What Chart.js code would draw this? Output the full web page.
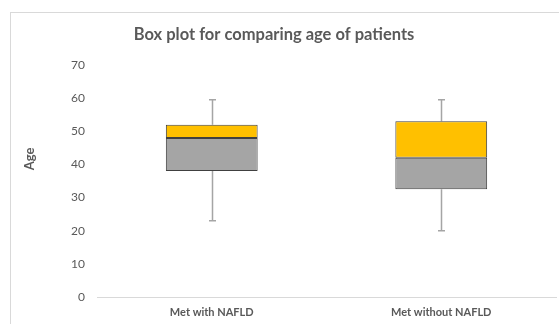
<!DOCTYPE html>
<html>
<head>
<meta charset="utf-8">
<script src="https://cdn.jsdelivr.net/npm/chart.js@4.4.1/dist/chart.umd.min.js"></script>
<style>
  html, body { margin: 0; padding: 0; background: #ffffff; }
  #wrap { position: relative; width: 559px; height: 324px; }
</style>
</head>
<body>
<div id="wrap"><canvas id="c" width="559" height="324"></canvas></div>
<script>
// Age distribution per patient group (five-number summary)
const categories = ['Met with NAFLD', 'Met without NAFLD'];
const minVals    = [23, 20];
const q1Vals     = [38, 32.5];
const medianVals = [48, 42];
const q3Vals     = [52, 53];
const maxVals    = [59.5, 59.5];
const yTicks     = [0, 10, 20, 30, 40, 50, 60, 70];

const TEXT = '#595959';
const FONT = 'Lato, "Open Sans", sans-serif';

// Lower box half (Q1 -> median) and upper box half (median -> Q3) as floating bars
const lowerBox = categories.map((_, i) => [q1Vals[i], medianVals[i]]);
const upperBox = categories.map((_, i) => [medianVals[i], q3Vals[i]]);

// Chart frame, title and y-axis caption
const framePlugin = {
  id: 'frame',
  beforeDraw(chart) {
    const ctx = chart.ctx;
    ctx.save();
    ctx.fillStyle = '#ffffff';
    ctx.fillRect(0, 0, chart.width, chart.height);
    ctx.strokeStyle = '#d9d9d9';
    ctx.lineWidth = 1;
    ctx.strokeRect(10.5, 12.5, chart.width + 20, chart.height + 20);
    ctx.fillStyle = TEXT;
    ctx.font = 'bold 16.5px ' + FONT;
    ctx.textAlign = 'center';
    ctx.textBaseline = 'alphabetic';
    ctx.fillText('Box plot for comparing age of patients', 274, 40);
    ctx.translate(30, 159);
    ctx.rotate(-Math.PI / 2);
    ctx.font = 'bold 13px ' + FONT;
    ctx.textBaseline = 'middle';
    ctx.fillText('Age', 0, 0);
    ctx.restore();
  }
};

// Whiskers: vertical lines from box edges to min / max, with short caps
const whiskerPlugin = {
  id: 'whiskers',
  beforeDatasetsDraw(chart) {
    const ctx = chart.ctx;
    const xs = chart.scales.x, ys = chart.scales.y;
    ctx.save();
    ctx.strokeStyle = '#a5a5a5';
    ctx.lineWidth = 1.5;
    categories.forEach((_, i) => {
      const x = Math.round(xs.getPixelForValue(i)) + 0.5;
      const yMin = ys.getPixelForValue(minVals[i]);
      const yMax = ys.getPixelForValue(maxVals[i]);
      const yQ1 = ys.getPixelForValue(q1Vals[i]);
      const yQ3 = ys.getPixelForValue(q3Vals[i]);
      ctx.beginPath();
      ctx.moveTo(x, yQ3); ctx.lineTo(x, yMax);
      ctx.moveTo(x, yQ1); ctx.lineTo(x, yMin);
      ctx.moveTo(x - 3.5, yMax); ctx.lineTo(x + 3.5, yMax);
      ctx.moveTo(x - 3.5, yMin); ctx.lineTo(x + 3.5, yMin);
      ctx.stroke();
    });
    ctx.restore();
  }
};

new Chart(document.getElementById('c'), {
  type: 'bar',
  data: {
    labels: categories,
    datasets: [
      {
        label: 'Q1 to median',
        data: lowerBox,
        backgroundColor: '#a5a5a5',
        borderColor: '#404040',
        borderWidth: 1,
        borderSkipped: false
      },
      {
        label: 'Median to Q3',
        data: upperBox,
        backgroundColor: '#ffc000',
        borderColor: '#404040',
        borderWidth: 1,
        borderSkipped: false
      }
    ]
  },
  options: {
    responsive: false,
    animation: false,
    devicePixelRatio: 1,
    grouped: false,
    barPercentage: 0.4,
    categoryPercentage: 1.0,
    layout: { padding: { left: 20, top: 65, right: 3, bottom: 0 } },
    plugins: {
      legend: { display: false },
      title: { display: false },
      tooltip: { enabled: false }
    },
    scales: {
      x: {
        grid: { display: false, drawTicks: false },
        border: { display: true, color: '#d9d9d9', width: 1 },
        ticks: {
          color: TEXT,
          font: { family: FONT, size: 11, weight: 'bold' },
          padding: 9,
          maxRotation: 0
        },
        afterFit(scale) { scale.height = 27; }
      },
      y: {
        min: 0,
        max: 70,
        afterBuildTicks(scale) { scale.ticks = yTicks.map(v => ({ value: v })); },
        grid: { display: false, drawTicks: false },
        border: { display: false },
        ticks: {
          color: TEXT,
          font: { family: FONT, size: 12 },
          padding: 12
        },
        afterFit(scale) { scale.width = 77; }
      }
    }
  },
  plugins: [framePlugin, whiskerPlugin]
});
</script>
</body>
</html>
